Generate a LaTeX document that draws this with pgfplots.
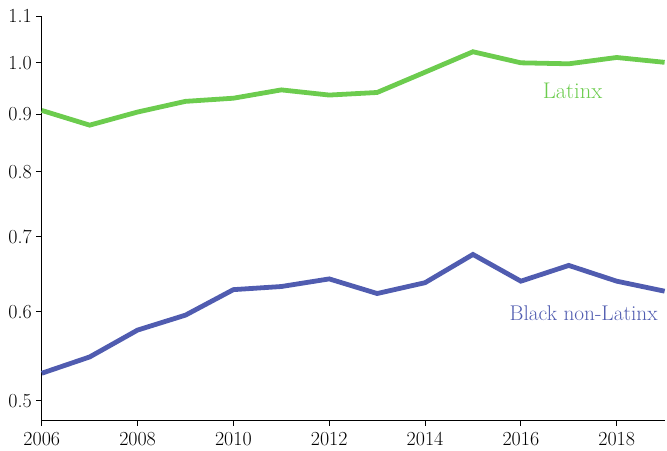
\documentclass[border={3pt 0pt 0pt 4pt}]{standalone}
\usepackage{pgfplots}
\pgfplotsset{compat=1.18}
\definecolor{latgreen}{RGB}{108,204,78}
\definecolor{blkblue}{RGB}{80,92,176}
\pgfplotstableread{
year latinx black
2006 0.907 0.529
2007 0.880 0.547
2008 0.904 0.578
2009 0.924 0.596
2010 0.930 0.628
2011 0.946 0.632
2012 0.936 0.642
2013 0.941 0.623
2014 0.981 0.637
2015 1.023 0.675
2016 1.000 0.639
2017 0.998 0.660
2018 1.011 0.639
2019 1.001 0.626
}\datatable
\begin{document}
\begin{tikzpicture}
\begin{axis}[
  scale only axis,
  width=468pt, height=303.75pt,
  ymode=log,
  xmin=2006, xmax=2019,
  ymin=0.480, ymax=1.1,
  axis lines*=left,
  axis line style={line width=0.8pt},
  xtick={2006,2008,...,2018},
  xticklabels={2006,2008,2010,2012,2014,2016,2018},
  ytick={0.5,0.6,0.7,0.8,0.9,1.0,1.1},
  yticklabels={0.5,0.6,0.7,0.8,0.9,1.0,1.1},
  tick align=outside,
  major tick length=4pt,
  tick style={black, line width=0.8pt},
  minor tick num=0,
  ticklabel style={font=\fontsize{15}{17}\selectfont},
  xticklabel style={yshift=-1pt},
  clip=false,
]
\addplot[latgreen, line width=3.6pt] table[x=year, y=latinx] {\datatable};
\addplot[blkblue, line width=3.6pt] table[x=year, y=black] {\datatable};
\node[text=latgreen, font=\fontsize{17}{20}\selectfont] at (axis cs:2017.08,0.945) {Latinx};
\node[text=blkblue, font=\fontsize{16}{19}\selectfont] at (axis cs:2017.31,0.598) {Black non-Latinx};
\end{axis}
\end{tikzpicture}
\end{document}
